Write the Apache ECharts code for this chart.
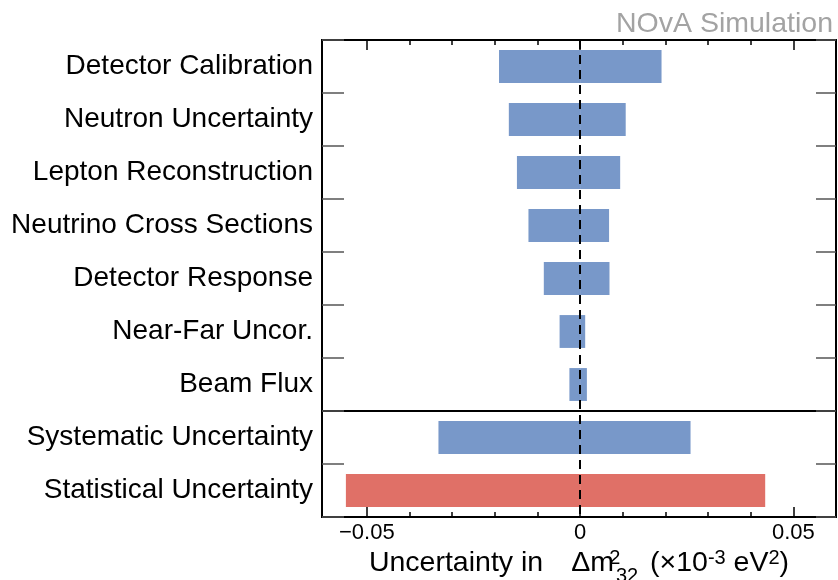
<!DOCTYPE html>
<html>
<head>
<meta charset="utf-8">
<script src="https://cdn.jsdelivr.net/npm/echarts@6/dist/echarts.min.js"></script>
<style>html,body{margin:0;padding:0;background:#fff}#c{width:838px;height:580px}</style>
</head>
<body>
<div id="c"></div>
<script>
const categories = ["Detector Calibration","Neutron Uncertainty","Lepton Reconstruction","Neutrino Cross Sections","Detector Response","Near-Far Uncor.","Beam Flux","Systematic Uncertainty","Statistical Uncertainty"];
const lowValues  = [-0.0190,-0.0167,-0.0148,-0.0121,-0.0085,-0.0048,-0.0025,-0.0332,-0.0549];
const highValues = [ 0.0191, 0.0107, 0.0094, 0.0068, 0.0069, 0.0012, 0.0016, 0.0259, 0.0434];
const majorTicks = [-0.05, 0, 0.05];
const minorTicks = [-0.04,-0.03,-0.02,-0.01,0.01,0.02,0.03,0.04];
const barColors  = ["#7898c9","#7898c9","#7898c9","#7898c9","#7898c9","#7898c9","#7898c9","#7898c9","#e07067"];
const separatorIndex = 7;

const FONT = "Liberation Sans, Arial, Helvetica, sans-serif";
const XMIN = -0.0605, XMAX = 0.060;

function mkData(vals){ return vals.map((v,i)=>({value:v,itemStyle:{color:barColors[i]}})); }
function xAxisDef(pos, ticks, len, withLabel){
  const a = {
    type:'value', position:pos, min:XMIN, max:XMAX, gridIndex:0,
    axisLine:{show:false, onZero:false}, splitLine:{show:false},
    axisTick:{show:true, inside:true, length:len, customValues:ticks, lineStyle:{color:'#000',width:1.5}},
    axisLabel:{show:false}
  };
  if (withLabel){
    a.axisLabel = {show:true, customValues:majorTicks, fontSize:22, color:'#000', fontFamily:FONT, margin:5,
      formatter:v => (Math.abs(v)<1e-9 ? '0' : String(v).replace('-','\u2212'))};
    a.name = '{n|Uncertainty in}{g|\u0394m}{sup0|2}{sub|32}{p| (\u00d710}{sup|-3}{n| eV}{sup|2}{n|)}';
    a.nameLocation = 'middle';
    a.nameGap = 24;
    const base = {fontFamily:FONT, color:'#000'};
    a.nameTextStyle = {rich:{
      n:   Object.assign({fontSize:28.5, lineHeight:36, verticalAlign:'top'}, base),
      g:   Object.assign({fontSize:28.5, lineHeight:36, verticalAlign:'top', padding:[0,0,0,28]}, base),
      p:   Object.assign({fontSize:28.5, lineHeight:36, verticalAlign:'top', padding:[0,0,0,4]}, base),
      sup0:Object.assign({fontSize:20, lineHeight:20, verticalAlign:'top', width:2}, base),
      sup: Object.assign({fontSize:20, lineHeight:20, verticalAlign:'top'}, base),
      sub: Object.assign({fontSize:20, lineHeight:38, verticalAlign:'bottom'}, base)
    }};
  }
  return a;
}

const sepColors = categories.concat(['end']).map((c,i)=> i===separatorIndex ? '#000' : 'rgba(0,0,0,0)');

const chart = echarts.init(document.getElementById('c'), null, {renderer:'canvas'});
chart.setOption({
  animation:false,
  backgroundColor:'#fff',
  title:{text:'NOvA Simulation', right:0, top:5, textStyle:{fontSize:28.5, fontWeight:'normal', color:'#a3a3a3', fontFamily:FONT}},
  grid:{left:322, right:2, top:40, bottom:63, outerBoundsMode:'none', containLabel:false,
        show:true, borderColor:'#000', borderWidth:2, backgroundColor:'transparent'},
  xAxis:[
    xAxisDef('bottom', majorTicks, 10, true),
    xAxisDef('bottom', minorTicks, 5, false),
    xAxisDef('top', majorTicks, 10, false),
    xAxisDef('top', minorTicks, 5, false)
  ],
  yAxis:[
    {type:'category', data:categories, inverse:true, position:'left',
     axisLine:{show:false, onZero:false},
     axisTick:{show:true, inside:true, length:22, interval:0, lineStyle:{color:'#555',width:1.5}},
     axisLabel:{interval:0, fontSize:28, color:'#000', fontFamily:FONT, margin:9},
     splitLine:{show:true, interval:0, lineStyle:{color:sepColors, width:2}}},
    {type:'category', data:categories, inverse:true, position:'right',
     axisLine:{show:false, onZero:false},
     axisTick:{show:true, inside:true, length:20, interval:0, lineStyle:{color:'#555',width:1.5}},
     axisLabel:{show:false}, splitLine:{show:false}}
  ],
  series:[
    {type:'bar', name:'low', stack:'u', xAxisIndex:0, yAxisIndex:0, barWidth:'62%', data:mkData(lowValues),
     markLine:{silent:true, symbol:'none', label:{show:false}, z:10,
       lineStyle:{color:'#000', width:2, type:[9,6]}, data:[{xAxis:0}]}},
    {type:'bar', name:'high', stack:'u', xAxisIndex:0, yAxisIndex:0, barWidth:'62%', data:mkData(highValues)}
  ]
});
</script>
</body>
</html>
